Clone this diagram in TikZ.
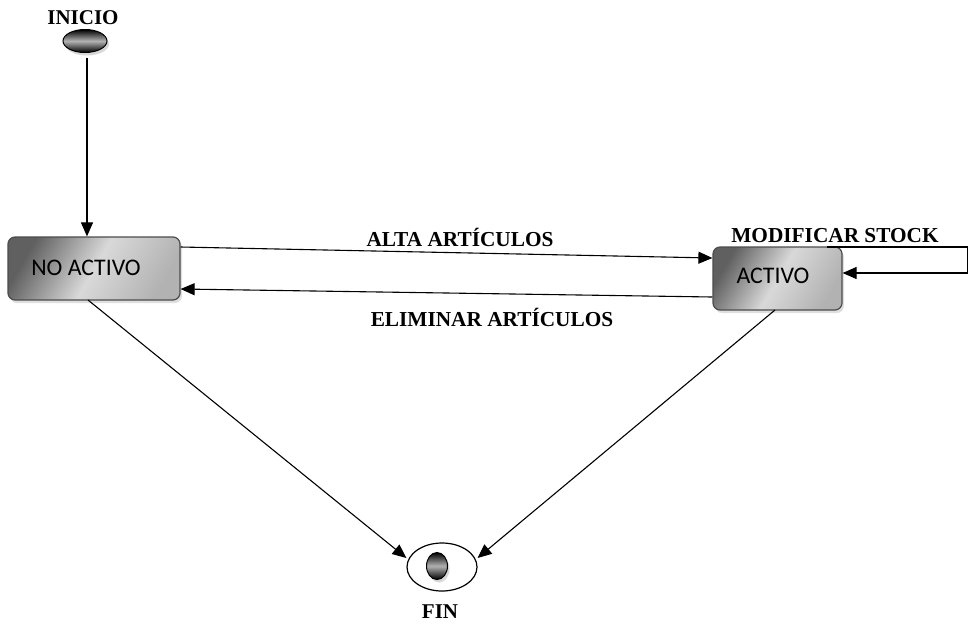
\documentclass[tikz,border=0pt]{standalone}
\usepackage{fontspec}
\setmainfont{Liberation Serif}
\newfontfamily\boxfont{Carlito}
\usetikzlibrary{arrows.meta,shadows,shapes.geometric}
\begin{document}
\begin{tikzpicture}[x=1pt,y=-1pt,
  state/.style={draw=gray!60!black,line width=1.2pt,rounded corners=7pt,
    minimum width=172pt,minimum height=63pt,inner sep=0pt,
    shading=axis,top color=gray!75!black,bottom color=gray!60,middle color=gray!30,shading angle=60,
    drop shadow={shadow xshift=2pt,shadow yshift=-3pt,fill=gray!50}},
  stxt/.style={font=\boxfont\fontsize{23.8}{27}\selectfont},
  lbl/.style={font=\bfseries\fontsize{21.3}{24}\selectfont},
  conn/.style={line width=1.1pt,-{Triangle[length=14pt,width=12pt]}},
  blob/.style={ellipse,draw=black,line width=1pt,shading=axis,top color=black,bottom color=black,middle color=gray!60,
    drop shadow={shadow xshift=2pt,shadow yshift=-3pt,fill=gray!60},inner sep=0pt}
]
\useasboundingbox (0,0) rectangle (969,625);
\node[font=\bfseries\fontsize{21}{24}\selectfont] (tini) at (83,18) {INICIO};
\node[blob,minimum width=44pt,minimum height=23pt] (ini) at (85,41) {};
\node[state,minimum width=172pt] (na) at (94,268.5) {};
\node[stxt] (tna) at (86,268) {NO ACTIVO};
\node[state,minimum width=129pt] (ac) at (777.5,278.5) {};
\node[stxt] (tac) at (773,276) {ACTIVO};
\node[ellipse,draw,line width=1.2pt,minimum width=70pt,minimum height=48pt,fill=white] (fin) at (442,567) {};
\node[blob,minimum width=21pt,minimum height=27pt] (fdot) at (437,566) {};
\node[font=\bfseries\fontsize{21}{24}\selectfont] (tfin) at (440,612) {FIN};
\coordinate (r1) at (967.5,247);
\coordinate (r2) at (967.5,273);
\draw[conn] (87,58) -- (na.north -| 87,0);
\draw[conn] (na.east |- 0,247) -- (ac.west |- 0,258);
\draw[conn] (ac.west |- 0,297) -- (na.east |- 0,289);
\node[lbl] (talta) at (460,237) {ALTA ARTÍCULOS};
\node[lbl] (telim) at (492,317) {ELIMINAR ARTÍCULOS};
\draw[conn] (827,247) -- (r1) -- (r2) -- (ac.east |- r2);
\node[lbl] (tmod) at (835,236) {MODIFICAR STOCK};
\draw[conn] (88,300) -- (fin.west |- 0,558);
\draw[conn] (775,310) -- (fin.east |- 0,558);
\end{tikzpicture}
\end{document}
